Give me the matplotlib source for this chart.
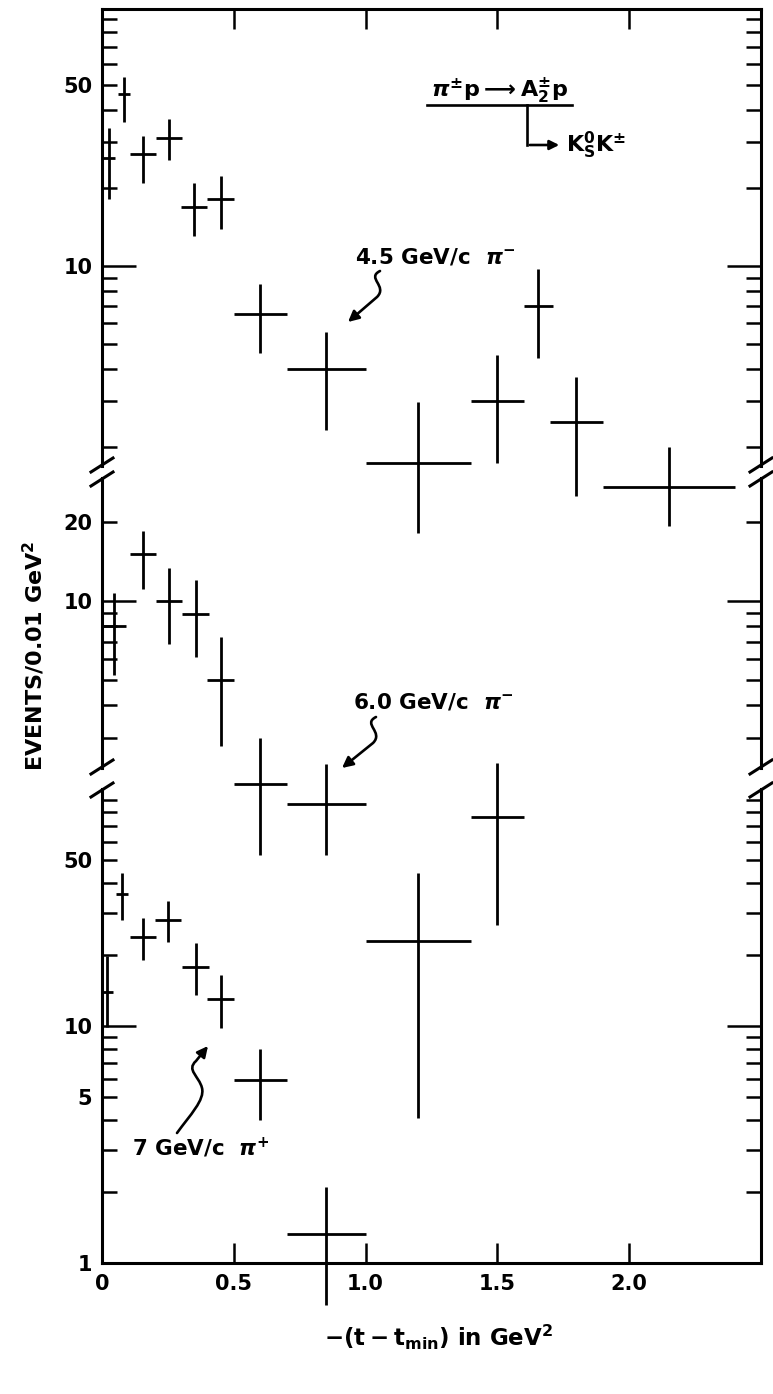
import numpy as np
import matplotlib.pyplot as plt
from matplotlib.lines import Line2D
from matplotlib.path import Path
from matplotlib.patches import FancyArrowPatch

plt.rcParams['font.family'] = ['DejaVu Sans']
plt.rcParams['font.weight'] = 'bold'
plt.rcParams['mathtext.fontset'] = 'custom'
plt.rcParams['mathtext.rm'] = 'DejaVu Sans:bold'
plt.rcParams['mathtext.bf'] = 'DejaVu Sans:bold'
plt.rcParams['mathtext.it'] = 'DejaVu Sans:italic:bold'
plt.rcParams['mathtext.default'] = 'rm'

# 4.5 GeV/c pi- : bin centre, bin half width, events, lower / upper end of error bar
p45_x = [0.025, 0.084, 0.155, 0.255, 0.35, 0.45, 0.60, 0.85, 1.20, 1.50, 1.655, 1.80, 2.15]
p45_dx = [0.025, 0.022, 0.05, 0.05, 0.05, 0.05, 0.10, 0.15, 0.20, 0.10, 0.055, 0.10, 0.25]
p45_y = [26.1, 46.0, 27.1, 31.2, 16.9, 18.1, 6.53, 4.0, 1.73, 3.01, 7.01, 2.5, 1.40]
p45_lo = [18.1, 36.0, 20.9, 25.7, 13.1, 13.9, 4.61, 2.33, 0.93, 1.73, 4.41, 1.29, 0.99]
p45_hi = [34.1, 53.7, 31.8, 37.0, 20.9, 22.2, 8.5, 5.56, 2.98, 4.53, 9.73, 3.73, 2.0]

# 6.0 GeV/c pi-
p60_x = [0.046, 0.155, 0.255, 0.355, 0.45, 0.60, 0.85]
p60_dx = [0.046, 0.05, 0.05, 0.05, 0.05, 0.10, 0.15]
p60_y = [8.0, 15.1, 10.0, 8.9, 5.0, 2.0, 1.68]
p60_lo = [5.2, 11.1, 6.85, 6.1, 2.8, 1.07, 1.07]
p60_hi = [10.7, 18.5, 13.4, 12.0, 7.3, 3.0, 2.39]

# 7 GeV/c pi+
p7_x = [0.02, 0.077, 0.155, 0.25, 0.355, 0.45, 0.60, 0.85, 1.20, 1.50]
p7_dx = [0.02, 0.023, 0.05, 0.05, 0.05, 0.05, 0.10, 0.15, 0.20, 0.10]
p7_y = [13.9, 36.1, 23.7, 28.0, 17.7, 13.0, 5.92, 1.33, 22.8, 76.0]
p7_lo = [9.9, 28.0, 19.0, 22.6, 13.5, 9.8, 4.01, 0.665, 4.09, 26.7]
p7_hi = [19.7, 44.2, 28.5, 33.7, 22.4, 16.4, 8.0, 2.09, 44.2, 129.0]

x_ticks = [0, 0.5, 1.0, 1.5, 2.0]
x_ticklabels = ['0', '0.5', '1.0', '1.5', '2.0']

W, H = 773, 1394
fig = plt.figure(figsize=(W / 100, H / 100), dpi=100)


def fx(px):
    return px / W


def fy(py):
    return 1 - py / H


L, R = 102, 761
# (top px, bottom px, ylim, major ticks, labelled minor ticks)
panels = [
    (9, 466, (1.69, 98), [10], {50: '50'}),
    (478, 768, (2.305, 29.5), [10], {20: '20'}),
    (789, 1263, (1, 100), [1, 10], {5: '5', 50: '50'}),
]
datasets = [
    (p45_x, p45_dx, p45_y, p45_lo, p45_hi),
    (p60_x, p60_dx, p60_y, p60_lo, p60_hi),
    (p7_x, p7_dx, p7_y, p7_lo, p7_hi),
]

axes = []
for i, (top, bot, ylim, majors, labelled) in enumerate(panels):
    ax = fig.add_axes([fx(L), fy(bot), (R - L) / W, (bot - top) / H])
    ax.set_yscale('log')
    ax.set_xlim(0, 2.5)
    ax.set_ylim(*ylim)

    minors = []
    for dec in [0.1, 1, 10, 100]:
        for m in range(2, 10):
            v = m * dec
            if ylim[0] < v < ylim[1]:
                minors.append(v)
    ax.set_yticks(majors)
    ax.set_yticklabels([f'{v:g}' for v in majors])
    ax.set_yticks(minors, minor=True)
    ax.set_yticklabels([labelled.get(round(v, 6), '') for v in minors], minor=True)

    ax.tick_params(axis='y', which='both', direction='in', left=True, right=True,
                   labelsize=15, pad=7, width=1.8, color='k')
    ax.tick_params(axis='y', which='major', length=24.5)
    ax.tick_params(axis='y', which='minor', length=10.8)

    for s in ax.spines.values():
        s.set_linewidth(2.2)
    if i > 0:
        ax.spines['top'].set_visible(False)
    if i < 2:
        ax.spines['bottom'].set_visible(False)

    ax.set_xticks(x_ticks)
    if i == 0:
        ax.tick_params(axis='x', which='both', direction='in', top=True, bottom=False,
                       labelbottom=False, length=14.4, width=1.8)
    elif i == 1:
        ax.tick_params(axis='x', which='both', top=False, bottom=False, labelbottom=False)
    else:
        ax.set_xticklabels(x_ticklabels)
        ax.tick_params(axis='x', which='both', direction='in', top=False, bottom=True,
                       length=14.4, width=1.8, labelsize=15, pad=8)
    ax.xaxis.set_minor_locator(plt.NullLocator())
    ax.set_facecolor('none')

    x, dx, y, lo, hi = [np.array(a, dtype=float) for a in datasets[i]]
    eb = ax.errorbar(x, y, xerr=dx, yerr=[y - lo, hi - y], fmt='none', ecolor='k',
                     elinewidth=2.0, capsize=0)
    for c in eb[2]:
        c.set_clip_on(False)
    axes.append(ax)

# break marks on both side axes
for top_edge, bot_edge in [(466, 478), (768, 789)]:
    for xs in (L, R):
        for yc in (top_edge - 1, bot_edge + 1):
            fig.add_artist(Line2D([fx(xs - 11), fx(xs + 11)], [fy(yc + 7), fy(yc - 7)],
                                  color='k', lw=2.2))

# axis titles
fig.text(fx(34), fy(656), 'EVENTS/0.01 GeV$^2$', rotation=90, ha='center', va='center',
         fontsize=16, fontweight='bold')
fig.text(fx(439), fy(1337), r'$-(t-t_{min})$ in GeV$^2$', ha='center', va='center',
         fontsize=16.5, fontweight='bold')

# reaction label
fig.text(fx(500), fy(91), r'$\mathit{\pi}^{\pm}p \longrightarrow A_2^{\pm}p$', ha='center',
         va='center', fontsize=16)
fig.add_artist(Line2D([fx(427), fx(572)], [fy(105), fy(105)], color='k', lw=1.9))
fig.add_artist(Line2D([fx(527), fx(527)], [fy(105), fy(145)], color='k', lw=1.9))
fig.add_artist(FancyArrowPatch((fx(527), fy(145)), (fx(562), fy(145)),
                               transform=fig.transFigure, arrowstyle='-|>',
                               mutation_scale=14, lw=1.9, color='k'))
fig.text(fx(566), fy(145), r'$K_S^0K^{\pm}$', ha='left', va='center', fontsize=16)

# beam labels
fig.text(fx(355), fy(257), r'4.5 GeV/c  $\mathit{\pi}^{-}$', ha='left', va='center', fontsize=15.5)
fig.text(fx(353), fy(702), r'6.0 GeV/c  $\mathit{\pi}^{-}$', ha='left', va='center', fontsize=15.5)
fig.text(fx(132), fy(1148), r'7 GeV/c  $\mathit{\pi}^{+}$', ha='left', va='center', fontsize=15.5)


def squiggle(pts, codes):
    verts = [(fx(a), fy(b)) for a, b in pts]
    arr = FancyArrowPatch(path=Path(verts, codes), transform=fig.transFigure,
                          arrowstyle='-|>', mutation_scale=16, lw=1.9, color='k')
    fig.add_artist(arr)


C4, MV, LN = Path.CURVE4, Path.MOVETO, Path.LINETO
squiggle([(380, 271), (366, 278), (388, 286), (377, 297), (348, 322)],
         [MV, C4, C4, C4, LN])
squiggle([(376, 717), (362, 724), (384, 732), (373, 743), (342, 768)],
         [MV, C4, C4, C4, LN])
squiggle([(177, 1133), (190, 1115), (205, 1100), (202, 1088),
          (199, 1076), (186, 1070), (196, 1061), (208, 1046)],
         [MV, C4, C4, C4, C4, C4, C4, LN])

fig.savefig('out.png', dpi=100)
